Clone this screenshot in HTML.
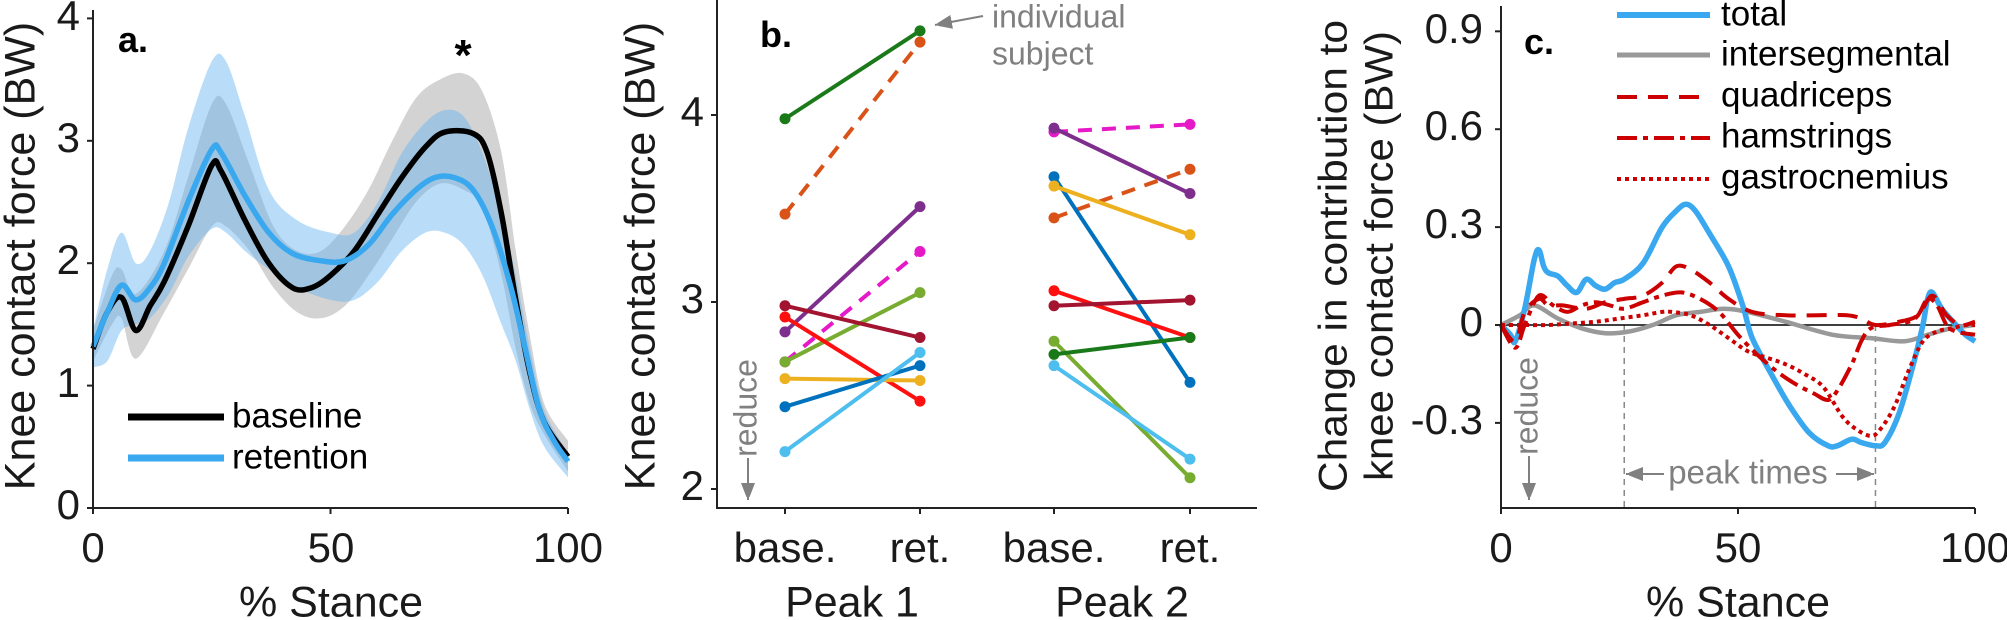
<!DOCTYPE html>
<html><head><meta charset="utf-8"><style>
html,body{margin:0;padding:0;background:#fff;}
svg{display:block;font-family:"Liberation Sans",Arial,sans-serif;}
</style></head><body>
<svg id="s" width="2007" height="620" viewBox="0 0 2007 620" xmlns="http://www.w3.org/2000/svg">
<defs>
<marker id="ah" markerWidth="10" markerHeight="10" refX="9" refY="5" orient="auto" markerUnits="userSpaceOnUse"><path d="M0,0 L10,5 L0,10 z" fill="#808080"/></marker>
<marker id="ahb" markerWidth="14" markerHeight="18" refX="17" refY="7" orient="auto" markerUnits="userSpaceOnUse"><path d="M0,0 L18,7 L0,14 z" fill="#808080"/></marker>
</defs>
<g id="A"></g><g id="B"></g><g id="C"></g>
<text x="23" y="256" font-size="43" fill="#1a1a1a" text-anchor="middle" transform="rotate(-90 23 256)" dominant-baseline="middle">Knee contact force (BW)</text>
<g font-size="42" fill="#1a1a1a" text-anchor="end" dominant-baseline="middle">
<text x="80" y="508">0</text><text x="80" y="386">1</text><text x="80" y="263">2</text><text x="80" y="141">3</text><text x="80" y="19">4</text>
</g>
<g font-size="42" fill="#1a1a1a" text-anchor="middle" dominant-baseline="middle">
<text x="93" y="551">0</text><text x="331" y="551">50</text><text x="568" y="551">100</text>
</g>
<text x="331" y="605" font-size="43" fill="#1a1a1a" text-anchor="middle" dominant-baseline="middle">% Stance</text>
<text x="118" y="52" font-size="36" font-weight="bold" fill="#000">a.</text>
<text x="463" y="70" font-size="44" font-weight="bold" fill="#000" text-anchor="middle">*</text>
<line x1="128" y1="417" x2="224" y2="417" stroke="#000" stroke-width="7"/>
<line x1="128" y1="458" x2="224" y2="458" stroke="#3aa8ef" stroke-width="7"/>
<text x="232" y="418" font-size="35" fill="#000" dominant-baseline="middle">baseline</text>
<text x="232" y="459" font-size="35" fill="#000" dominant-baseline="middle">retention</text>
<text x="643" y="256" font-size="43" fill="#1a1a1a" text-anchor="middle" transform="rotate(-90 643 256)" dominant-baseline="middle">Knee contact force (BW)</text>
<g font-size="42" fill="#1a1a1a" text-anchor="end" dominant-baseline="middle">
<text x="704" y="489">2</text><text x="704" y="302">3</text><text x="704" y="115">4</text>
</g>
<g font-size="42" fill="#1a1a1a" text-anchor="middle" dominant-baseline="middle">
<text x="785" y="551">base.</text><text x="920" y="551">ret.</text><text x="1054" y="551">base.</text><text x="1190" y="551">ret.</text>
</g>
<g font-size="43" fill="#1a1a1a" text-anchor="middle" dominant-baseline="middle">
<text x="852" y="605">Peak 1</text><text x="1122" y="605">Peak 2</text>
</g>
<text x="760" y="47" font-size="36" font-weight="bold" fill="#000">b.</text>
<line x1="983" y1="16" x2="935" y2="25" stroke="#808080" stroke-width="2" marker-end="url(#ahb)"/>
<text x="992" y="19" font-size="32" fill="#808080" dominant-baseline="middle">individual</text>
<text x="992" y="56" font-size="32" fill="#808080" dominant-baseline="middle">subject</text>
<text x="748" y="408" font-size="32" fill="#808080" text-anchor="middle" dominant-baseline="middle" transform="rotate(-90 748 408)">reduce</text>
<line x1="748" y1="458" x2="748" y2="500" stroke="#808080" stroke-width="2" marker-end="url(#ahb)"/>
<text x="1336" y="256" font-size="40" fill="#1a1a1a" text-anchor="middle" transform="rotate(-90 1336 256)" dominant-baseline="middle" textLength="472" lengthAdjust="spacingAndGlyphs">Change in contribution to</text>
<text x="1382" y="256" font-size="40" fill="#1a1a1a" text-anchor="middle" transform="rotate(-90 1382 256)" dominant-baseline="middle" textLength="450" lengthAdjust="spacingAndGlyphs">knee contact force (BW)</text>
<g font-size="42" fill="#1a1a1a" text-anchor="end" dominant-baseline="middle">
<text x="1483" y="32">0.9</text><text x="1483" y="129">0.6</text><text x="1483" y="227">0.3</text><text x="1483" y="325">0</text><text x="1483" y="423">-0.3</text>
</g>
<g font-size="42" fill="#1a1a1a" text-anchor="middle" dominant-baseline="middle">
<text x="1501" y="551">0</text><text x="1738" y="551">50</text><text x="1975" y="551">100</text>
</g>
<text x="1738" y="605" font-size="43" fill="#1a1a1a" text-anchor="middle" dominant-baseline="middle">% Stance</text>
<text x="1524" y="54" font-size="36" font-weight="bold" fill="#000">c.</text>
<g font-size="35" fill="#000" dominant-baseline="middle">
<text x="1721" y="16">total</text><text x="1721" y="56">intersegmental</text><text x="1721" y="97">quadriceps</text><text x="1721" y="138">hamstrings</text><text x="1721" y="179">gastrocnemius</text>
</g>
<line x1="1617" y1="15" x2="1710" y2="15" stroke="#3aa8ef" stroke-width="6"/>
<line x1="1617" y1="55" x2="1710" y2="55" stroke="#999" stroke-width="5"/>
<line x1="1617" y1="97" x2="1710" y2="97" stroke="#cc0000" stroke-width="4" stroke-dasharray="20,11"/>
<line x1="1617" y1="138" x2="1710" y2="138" stroke="#cc0000" stroke-width="4" stroke-dasharray="20,6,5,6"/>
<line x1="1617" y1="179" x2="1710" y2="179" stroke="#cc0000" stroke-width="4" stroke-dasharray="4,4"/>
<text x="1748" y="475" font-size="33" fill="#808080" text-anchor="middle" dominant-baseline="middle">peak times</text>
<line x1="1664" y1="474" x2="1626" y2="474" stroke="#808080" stroke-width="2" marker-end="url(#ahb)"/>
<line x1="1836" y1="474" x2="1874" y2="474" stroke="#808080" stroke-width="2" marker-end="url(#ahb)"/>
<text x="1529" y="406" font-size="32" fill="#808080" text-anchor="middle" dominant-baseline="middle" transform="rotate(-90 1529 406)">reduce</text>
<line x1="1529" y1="456" x2="1529" y2="500" stroke="#808080" stroke-width="2" marker-end="url(#ahb)"/>
</svg>
<script>
var NS="http://www.w3.org/2000/svg";
function el(g,tag,at){var e=document.createElementNS(NS,tag);for(var k in at)e.setAttribute(k,at[k]);document.getElementById(g).appendChild(e);return e;}
function cr(p){
  var d="M"+p[0][0].toFixed(1)+","+p[0][1].toFixed(1);
  for(var i=0;i<p.length-1;i++){var p0=p[i-1]||p[i],p1=p[i],p2=p[i+1],p3=p[i+2]||p2;
    var c1=[p1[0]+(p2[0]-p0[0])/6,p1[1]+(p2[1]-p0[1])/6],c2=[p2[0]-(p3[0]-p1[0])/6,p2[1]-(p3[1]-p1[1])/6];
    d+="C"+c1[0].toFixed(1)+","+c1[1].toFixed(1)+" "+c2[0].toFixed(1)+","+c2[1].toFixed(1)+" "+p2[0].toFixed(1)+","+p2[1].toFixed(1);}
  return d;}
var ax=function(x){return 93+x*4.75},ay=function(v){return 508-v*122.4};
function pts(arr,fx,fy,idx){return arr.map(function(r){return [fx(r[0]),fy(r[idx])]});}
var gb=[[0,1.45,1.2],[4,1.9,1.5],[6,1.95,1.55],[9,1.75,1.22],[15,2.1,1.6],[20,2.7,1.95],[25,3.3,2.3],[28,3.3,2.3],[33,2.8,2.1],[38,2.3,1.8],[43,2.1,1.6],[48,2.1,1.55],[53,2.3,1.65],[58,2.6,1.9],[63,3.0,2.2],[68,3.35,2.5],[73,3.5,2.65],[78,3.55,2.6],[82,3.4,2.45],[86,2.9,1.9],[89,2.1,1.3],[92,1.4,0.85],[95,0.85,0.6],[100,0.55,0.3]];
var rb=[[0,1.45,1.15],[3,1.95,1.2],[6,2.25,1.45],[9,2.0,1.5],[12,2.1,1.55],[16,2.5,1.75],[20,3.1,2.05],[25,3.65,2.28],[28,3.65,2.25],[32,3.2,2.1],[37,2.6,1.95],[43,2.35,1.8],[50,2.25,1.7],[55,2.25,1.7],[60,2.5,1.85],[65,2.9,2.1],[70,3.15,2.25],[74,3.25,2.25],[78,3.2,2.15],[82,2.9,1.9],[86,2.4,1.5],[89,1.9,1.2],[92,1.3,0.8],[95,0.8,0.5],[100,0.45,0.25]];
function band(g,b,fill){var up=pts(b,ax,ay,1),lo=pts(b,ax,ay,2).reverse();var d=cr(up)+" L"+cr(lo).slice(1)+"Z";el(g,"path",{d:d,fill:fill,stroke:"none"});}
band("A",gb,"#d3d3d3");band("A",rb,"rgba(100,180,240,0.45)");
var bl=[[0,1.3],[3,1.6],[6,1.72],[9,1.45],[12,1.65],[15,1.85],[20,2.3],[25,2.8],[27,2.75],[32,2.35],[37,2.0],[42,1.8],[46,1.8],[50,1.9],[55,2.1],[60,2.4],[65,2.7],[70,2.95],[74,3.07],[80,3.06],[83,2.9],[86,2.4],[89,1.7],[92,1.1],[95,0.7],[100,0.42]];
var rl=[[0,1.32],[3,1.6],[6,1.82],[9,1.7],[12,1.8],[15,2.0],[20,2.5],[25,2.93],[27,2.9],[32,2.55],[37,2.25],[42,2.08],[48,2.02],[53,2.02],[58,2.15],[63,2.4],[68,2.6],[72,2.7],[76,2.7],[80,2.6],[84,2.3],[88,1.8],[91,1.3],[94,0.8],[97,0.55],[100,0.38]];
el("A","path",{d:cr(pts(bl,ax,ay,1)),fill:"none",stroke:"#000","stroke-width":5.5});
el("A","path",{d:cr(pts(rl,ax,ay,1)),fill:"none",stroke:"#3aa8ef","stroke-width":5.5});
el("A","path",{d:"M93,10 V508 H568",fill:"none",stroke:"#222","stroke-width":2});
[0,1,2,3,4].forEach(function(v){el("A","line",{x1:87,x2:93,y1:ay(v),y2:ay(v),stroke:"#222","stroke-width":2});});
[0,50,100].forEach(function(x){el("A","line",{x1:ax(x),x2:ax(x),y1:508,y2:514,stroke:"#222","stroke-width":2});});
var by=function(v){return 489-(v-2)*187};
var X=[785,920,1054,1190];
var P1=[["#1a7a1a",3.98,4.45,0],["#d95319",3.47,4.39,1],["#7e2f8e",2.84,3.51,0],["#e619c8",2.68,3.27,1],["#77ac30",2.68,3.05,0],["#a2142f",2.98,2.81,0],["#ff1010",2.92,2.47,0],["#edb120",2.59,2.58,0],["#0072bd",2.44,2.66,0],["#4dbeee",2.20,2.73,0]];
var P2=[["#e619c8",3.91,3.95,1],["#7e2f8e",3.93,3.58,0],["#d95319",3.45,3.71,1],["#0072bd",3.67,2.57,0],["#edb120",3.62,3.36,0],["#ff1010",3.06,2.81,0],["#a2142f",2.98,3.01,0],["#77ac30",2.79,2.06,0],["#1a7a1a",2.72,2.81,0],["#4dbeee",2.66,2.16,0]];
function drawP(P,xa,xb){P.forEach(function(s){var a={x1:xa,y1:by(s[1]),x2:xb,y2:by(s[2]),stroke:s[0],"stroke-width":4};if(s[3])a["stroke-dasharray"]="14,10";el("B","line",a);
 el("B","circle",{cx:xa,cy:by(s[1]),r:5.5,fill:s[0]});el("B","circle",{cx:xb,cy:by(s[2]),r:5.5,fill:s[0]});});}
drawP(P1,X[0],X[1]);drawP(P2,X[2],X[3]);
el("B","path",{d:"M717,0 V508 H1257",fill:"none",stroke:"#222","stroke-width":2});
[2,3,4].forEach(function(v){el("B","line",{x1:711,x2:717,y1:by(v),y2:by(v),stroke:"#222","stroke-width":2});});
X.forEach(function(x){el("B","line",{x1:x,x2:x,y1:508,y2:514,stroke:"#222","stroke-width":2});});
var cx=function(x){return 1501+x*4.74},cy=function(v){return 325-v*326.3};
el("C","line",{x1:cx(26),x2:cx(26),y1:325,y2:508,stroke:"#888","stroke-width":1.5,"stroke-dasharray":"6,5"});
el("C","line",{x1:cx(79),x2:cx(79),y1:325,y2:508,stroke:"#888","stroke-width":1.5,"stroke-dasharray":"6,5"});
el("C","line",{x1:1501,x2:1975,y1:325,y2:325,stroke:"#000","stroke-width":1.5});
var tot=[[0,0],[2,-0.03],[3,-0.05],[5,0.05],[7,0.2],[8,0.23],[9,0.18],[10,0.16],[12,0.15],[14,0.12],[16,0.10],[18,0.14],[20,0.12],[22,0.11],[24,0.13],[26,0.14],[30,0.19],[34,0.3],[37,0.35],[39,0.37],[41,0.35],[44,0.28],[48,0.18],[51,0.06],[53,-0.04],[57,-0.15],[61,-0.25],[65,-0.33],[69,-0.37],[71,-0.37],[74,-0.35],[76,-0.36],[79,-0.37],[81,-0.36],[84,-0.27],[87,-0.12],[89,0.0],[90,0.08],[91,0.1],[93,0.05],[96,0.0],[98,-0.03],[100,-0.05]];
var ints=[[0,0],[4,0.03],[7,0.06],[12,0.02],[17,-0.01],[22,-0.025],[27,-0.02],[32,0.0],[37,0.03],[42,0.04],[47,0.05],[52,0.04],[60,0.01],[70,-0.03],[78,-0.04],[85,-0.05],[90,-0.03],[95,-0.01],[100,0.0]];
var quad=[[0,0],[3,-0.05],[5,0.04],[8,0.08],[10,0.06],[13,0.06],[18,0.05],[22,0.07],[26,0.08],[30,0.09],[34,0.13],[37,0.18],[40,0.17],[44,0.13],[48,0.08],[53,0.04],[60,0.03],[67,0.03],[73,0.03],[76,0.02],[79,0.0],[84,0.01],[88,0.03],[91,0.09],[94,0.03],[97,0.0],[100,0.01]];
var ham=[[0,0],[3,-0.07],[5,0.0],[8,0.09],[11,0.06],[14,0.04],[17,0.06],[20,0.07],[23,0.06],[26,0.05],[30,0.07],[34,0.09],[38,0.1],[42,0.08],[46,0.04],[50,-0.03],[54,-0.09],[58,-0.14],[62,-0.18],[66,-0.21],[69,-0.23],[71,-0.2],[74,-0.12],[76,-0.05],[78,-0.01],[82,0.0],[86,0.01],[88,0.03],[90,0.08],[92,0.06],[94,0.0],[96,-0.02],[100,-0.03]];
var gas=[[0,0],[5,0.0],[10,0.0],[15,0.005],[20,0.01],[25,0.02],[30,0.03],[34,0.04],[36,0.04],[40,0.03],[44,0.0],[48,-0.04],[52,-0.08],[56,-0.1],[60,-0.12],[64,-0.15],[68,-0.19],[72,-0.28],[75,-0.32],[78,-0.34],[80,-0.32],[83,-0.25],[86,-0.14],[89,-0.05],[92,-0.02],[95,-0.01],[98,0.0],[100,0.0]];
el("C","path",{d:cr(pts(ints,cx,cy,1)),fill:"none",stroke:"#999","stroke-width":4.5});
el("C","path",{d:cr(pts(tot,cx,cy,1)),fill:"none",stroke:"#3aa8ef","stroke-width":5.5});
el("C","path",{d:cr(pts(quad,cx,cy,1)),fill:"none",stroke:"#cc0000","stroke-width":4,"stroke-dasharray":"20,11"});
el("C","path",{d:cr(pts(ham,cx,cy,1)),fill:"none",stroke:"#cc0000","stroke-width":4,"stroke-dasharray":"20,6,5,6"});
el("C","path",{d:cr(pts(gas,cx,cy,1)),fill:"none",stroke:"#cc0000","stroke-width":4,"stroke-dasharray":"4,4"});
el("C","path",{d:"M1501,6 V508 H1975",fill:"none",stroke:"#222","stroke-width":2});
[0.9,0.6,0.3,0,-0.3].forEach(function(v){el("C","line",{x1:1495,x2:1501,y1:cy(v),y2:cy(v),stroke:"#222","stroke-width":2});});
[0,50,100].forEach(function(x){el("C","line",{x1:cx(x),x2:cx(x),y1:508,y2:514,stroke:"#222","stroke-width":2});});
</script>
</body></html>
